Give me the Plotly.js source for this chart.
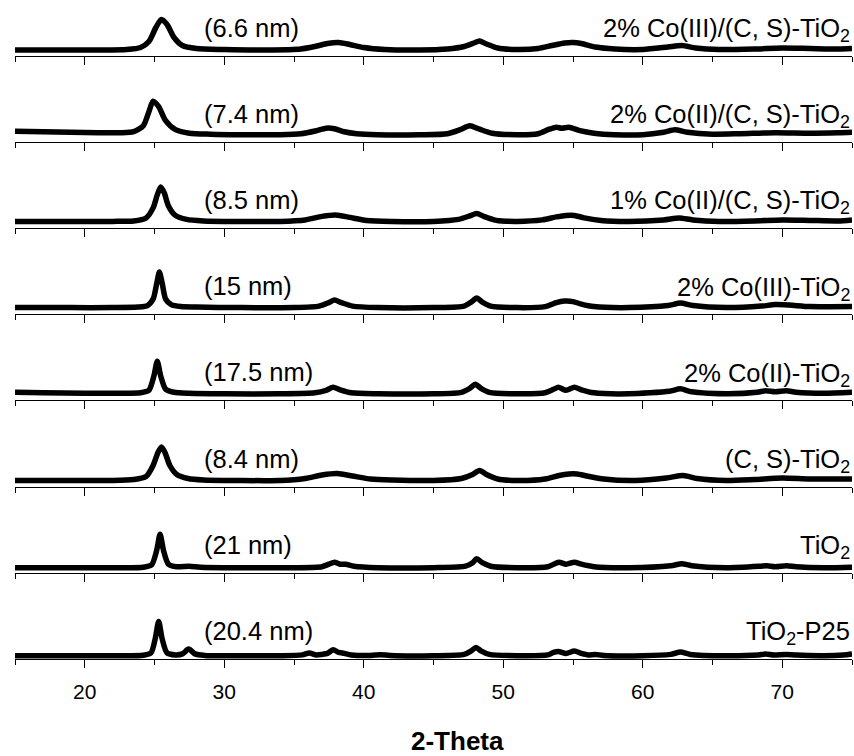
<!DOCTYPE html>
<html>
<head>
<meta charset="utf-8">
<script src="https://cdn.plot.ly/plotly-3.0.1.min.js"></script>
<style>
  html, body { margin: 0; padding: 0; background: #fff; }
  #chart { width: 854px; height: 756px; }
</style>
</head>
<body>
<div id="chart"></div>
<script>
// XRD patterns (2-Theta in degrees, intensity in arbitrary units), top to bottom
const sampleNames = [
  "2% Co(III)/(C, S)-TiO<sub>2</sub>",
  "2% Co(II)/(C, S)-TiO<sub>2</sub>",
  "1% Co(II)/(C, S)-TiO<sub>2</sub>",
  "2% Co(III)-TiO<sub>2</sub>",
  "2% Co(II)-TiO<sub>2</sub>",
  "(C, S)-TiO<sub>2</sub>",
  "TiO<sub>2</sub>",
  "TiO<sub>2</sub>-P25"
];
const crystalliteSizes = ["(6.6 nm)", "(7.4 nm)", "(8.5 nm)", "(15 nm)", "(17.5 nm)", "(8.4 nm)", "(21 nm)", "(20.4 nm)"];

const co3CS_x = [15, 18, 21, 23, 24, 24.6, 25.1, 25.5, 25.9, 26.4, 27, 28, 30, 33, 35.5, 36.5, 37.4, 38.2, 39, 40, 41.5, 44, 46, 47.2, 47.9, 48.3, 48.8, 49.6, 51, 52.5, 53.5, 54.4, 55.0, 55.6, 56.6, 58, 60, 61.8, 62.8, 63.8, 65.5, 68, 70, 72, 74, 75];
const co3CS_y = [5.5, 5.5, 5.5, 6, 8, 14, 28, 36, 31, 18, 10, 7, 6, 5.5, 6.5, 9, 12, 13, 11, 8, 6, 5.5, 6.5, 9, 12.5, 14.5, 11.5, 7.5, 6, 7, 10, 12.5, 13, 12, 8.5, 6.5, 6, 8.5, 10, 7.5, 6, 6.5, 7.5, 7, 6.5, 7];

const co2CS_x = [15, 17, 19, 21, 22.5, 23.5, 24.2, 24.6, 24.9, 25.3, 25.8, 26.5, 27.5, 29, 31, 34, 35.5, 36.6, 37.3, 37.9, 38.6, 39.5, 41, 44, 46, 46.9, 47.6, 48.3, 49.2, 51, 52.5, 53.3, 53.8, 54.2, 54.7, 55.5, 56.5, 58, 60, 61.5, 62.3, 63.2, 65, 67, 69.5, 72, 74, 75];
const co2CS_y = [10.5, 10, 9.5, 9, 9, 10, 16, 30, 40.5, 35, 21, 12, 8.5, 7.5, 7, 7, 8, 11, 13.5, 13, 10, 8, 7, 7, 8, 12, 16, 12.5, 8.5, 7, 8, 12.5, 14.5, 13.5, 14.5, 11, 8.5, 7, 7, 9.5, 12, 9.5, 7.5, 8, 9, 8.5, 9, 9.5];

const co2CS1_x = [15, 19, 22, 23.5, 24.4, 24.9, 25.2, 25.45, 25.7, 26.0, 26.5, 27.3, 28.5, 31, 34, 35.8, 37.0, 38.0, 39.0, 40.2, 42, 45, 46.8, 47.6, 48.1, 48.6, 49.5, 51, 52.8, 53.8, 54.5, 55.1, 55.8, 57, 59, 61.5, 62.6, 63.6, 65.5, 68, 70, 72, 74, 75];
const co2CS1_y = [6.5, 6.5, 6.5, 7, 10, 20, 33, 41, 35, 22, 12.5, 8.5, 7, 6.5, 6.5, 8, 11.5, 13, 10.5, 7.5, 6.5, 6.5, 8.5, 12, 14.5, 11.5, 7.5, 6.5, 8, 11, 12.5, 12.5, 10, 7.5, 6.5, 8, 10, 8, 6.5, 7, 8, 7.5, 7, 8];

const co3_x = [15, 19, 22, 23.8, 24.5, 24.9, 25.15, 25.35, 25.55, 25.8, 26.2, 26.9, 28, 31, 35, 36.8, 37.5, 37.9, 38.4, 39.2, 41, 45, 47.2, 47.7, 48.1, 48.5, 49.1, 51, 53, 53.8, 54.4, 55.0, 55.6, 56.5, 59, 61.8, 62.7, 63.6, 66, 68.5, 69.5, 70.5, 72, 75];
const co3_y = [6.5, 6.5, 6.5, 7, 8.5, 15, 30, 42, 31, 15, 9.5, 7.5, 7, 6.5, 6.5, 8, 11.5, 14, 11.5, 8, 6.5, 6.5, 8, 12, 16, 12, 8, 6.5, 7.5, 11.5, 13, 12.5, 10, 7.5, 6.5, 8.5, 11, 8.5, 6.5, 8, 9.5, 9, 7.5, 7.5];

const co2_x = [15, 17, 20, 22.5, 24, 24.6, 24.95, 25.2, 25.45, 25.8, 26.4, 27.5, 30, 34, 36.5, 37.3, 37.8, 38.3, 39.1, 41, 45, 47.0, 47.6, 48.0, 48.4, 49.0, 51, 53.0, 53.6, 53.95, 54.5, 55.1, 55.6, 56.5, 59, 61.9, 62.7, 63.5, 66, 68.2, 68.8, 69.5, 70.3, 71.0, 73, 75];
const co2_y = [8, 7.5, 7, 7, 7.5, 10, 24, 39, 24, 11, 8, 7, 6.5, 6.5, 7.5, 10, 13, 10.5, 7.5, 6.5, 6.5, 8, 12, 16, 12, 8, 6.5, 7.5, 11, 13, 10, 13, 10.5, 7.5, 6.5, 9, 11.5, 8.5, 6.5, 8, 9.5, 8.5, 9.5, 8, 7, 8];

const cs_x = [15, 19, 22, 23.5, 24.4, 24.9, 25.25, 25.5, 25.75, 26.1, 26.6, 27.4, 28.5, 31, 34, 35.8, 37.0, 38.1, 39.2, 40.5, 42, 45, 47.0, 47.8, 48.3, 48.8, 49.6, 51, 53, 54.0, 54.7, 55.3, 56.0, 57.2, 59.5, 61.7, 62.9, 63.9, 66, 68, 70, 72, 75];
const cs_y = [6, 6, 6, 7, 10, 21, 34, 39.5, 34, 21, 12, 8, 6.5, 6, 6, 8, 11.5, 13, 10.5, 7.5, 6.5, 6, 8, 12, 16, 12, 7.5, 6, 7.5, 11, 12.5, 12.5, 10.5, 7.5, 6, 8.5, 11, 8, 6, 7, 8.5, 7.5, 7.5];

const tio2_x = [15, 19, 22.5, 24.2, 24.8, 25.15, 25.4, 25.65, 26.0, 26.6, 27.5, 28.3, 31, 35, 37.0, 37.5, 37.9, 38.3, 38.7, 39.3, 41, 45, 47.3, 47.8, 48.1, 48.5, 49.1, 51, 53.2, 53.7, 54.0, 54.5, 55.1, 55.6, 56.5, 59, 62.0, 62.8, 63.5, 66, 68.4, 68.9, 69.5, 70.3, 71.0, 73, 75];
const tio2_y = [5, 5, 5, 5.5, 8, 22, 38.5, 22, 8.5, 6, 6.5, 5.5, 5, 5, 6, 8.5, 10.5, 8.5, 8.5, 6.5, 5, 5, 6.5, 10, 14, 10, 6.5, 5, 6, 9, 10.5, 8.5, 10.5, 8.5, 6, 5, 7, 9, 7, 5, 6.5, 7, 6, 7, 6, 5, 5.5];

const p25_x = [15, 19, 22.5, 24.2, 24.75, 25.05, 25.3, 25.55, 25.9, 26.5, 27.0, 27.45, 27.9, 28.6, 31, 34, 35.6, 36.1, 36.6, 37.0, 37.4, 37.8, 38.2, 38.6, 39.1, 40.5, 41.2, 41.9, 45, 47.2, 47.7, 48.05, 48.4, 49.0, 51, 53.2, 53.6, 53.95, 54.5, 55.1, 55.6, 56.1, 56.6, 57.2, 60, 62.0, 62.7, 63.4, 66, 68.3, 68.8, 69.4, 70.3, 71.0, 73, 74.4, 75];
const p25_y = [3.2, 3.2, 3.2, 3.7, 6, 20, 37.5, 20, 6, 4, 5, 9.8, 5, 3.5, 3.2, 3.2, 4, 5.8, 4, 4.5, 5.5, 9.2, 6.5, 5.5, 4, 3.4, 4.2, 3.4, 3.2, 4.5, 8, 11.5, 8, 4.5, 3.2, 4, 6.5, 7.5, 5.5, 7.8, 5.5, 4, 4.5, 3.5, 3.2, 4.5, 6.8, 4.5, 3.2, 4, 4.8, 3.8, 4.5, 3.8, 3.2, 4, 5];

const patterns = [
  [co3CS_x, co3CS_y], [co2CS_x, co2CS_y], [co2CS1_x, co2CS1_y], [co3_x, co3_y],
  [co2_x, co2_y], [cs_x, cs_y], [tio2_x, tio2_y], [p25_x, p25_y]
];
const xTicks = [20, 30, 40, 50, 60, 70];
const xMinorTicks = [15, 25, 35, 45, 55, 65, 75];

// ---- layout geometry (pixels) ----
const W = 854, H = 756;
const M = { l: 15, r: 2, t: 0, b: 97 };
const plotH = H - M.t - M.b;           // 659
const firstAxis = 55.5, gap = 86.2;    // baseline of the top panel, panel pitch
const nPanels = patterns.length;

const fontFam = "Liberation Sans, Arial, Helvetica, sans-serif";
const data = [];
const layout = {
  width: W, height: H,
  margin: M,
  paper_bgcolor: "#fff", plot_bgcolor: "rgba(0,0,0,0)",
  showlegend: false,
  font: { family: fontFam, color: "#000" },
  annotations: []
};

for (let i = 0; i < nPanels; i++) {
  const n = i === 0 ? "" : String(i + 1);
  const axisPx = firstAxis + gap * i;                 // pixel row of this panel's axis
  const lo = (M.t + plotH - axisPx) / plotH;
  const hiPx = Math.max(axisPx - gap, M.t);
  const hi = (M.t + plotH - hiPx) / plotH;
  const spanPx = axisPx - hiPx;

  data.push({
    x: patterns[i][0], y: patterns[i][1],
    xaxis: "x" + n, yaxis: "y" + n,
    type: "scatter", mode: "lines",
    line: { color: "#000", width: 5.5, shape: "spline", smoothing: 0.7 },
    hoverinfo: "skip"
  });

  const isBottom = i === nPanels - 1;
  layout["xaxis" + n] = {
    anchor: "y" + n,
    range: [15, 75],
    tickmode: "array", tickvals: xTicks,
    ticks: "outside", ticklen: 8, tickwidth: 1, tickcolor: "#000",
    minor: { tickmode: "array", tickvals: xMinorTicks, ticks: "outside", ticklen: 5, tickwidth: 1, tickcolor: "#000", showgrid: false },
    showline: true, linecolor: "#000", linewidth: 1,
    showgrid: false, zeroline: false,
    showticklabels: isBottom,
    ticklabelstandoff: 6,
    tickfont: { size: 21, family: fontFam, color: "#000" },
    fixedrange: true
  };
  if (n) layout["xaxis" + n].matches = "x";
  layout["yaxis" + n] = {
    domain: [lo, hi],
    range: [0, spanPx],
    visible: false, fixedrange: true
  };

  // crystallite size on the left, sample name on the right
  layout.annotations.push({
    text: crystalliteSizes[i], xref: "x" + n, yref: "y" + n,
    x: 28.4, y: 28, xanchor: "left", yanchor: "middle",
    showarrow: false, font: { size: 25.5, family: fontFam, color: "#000" }
  });
  layout.annotations.push({
    text: sampleNames[i], xref: "paper", yref: "y" + n,
    x: 1, y: 25.5, xanchor: "right", yanchor: "middle",
    showarrow: false, font: { size: 25.5, family: fontFam, color: "#000" }
  });
}

layout.annotations.push({
  text: "<b>2-Theta</b>", xref: "paper", yref: "paper",
  x: (457.5 - M.l) / (W - M.l - M.r), y: (plotH - (741 - M.t)) / plotH,
  xanchor: "center", yanchor: "middle", showarrow: false,
  font: { size: 26, family: fontFam, color: "#000" }
});

Plotly.newPlot("chart", data, layout, { staticPlot: true, displayModeBar: false });
</script>
</body>
</html>
